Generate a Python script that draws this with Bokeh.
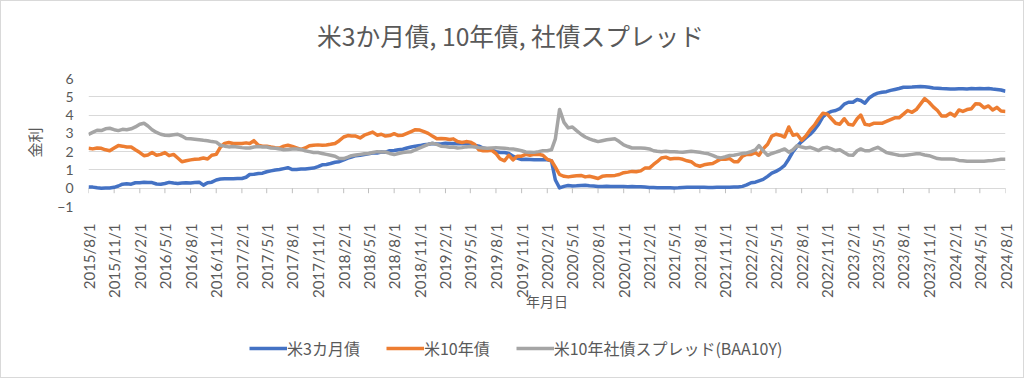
import math
import pandas as pd
from bokeh.plotting import figure
from bokeh.layouts import column
from bokeh.models import FixedTicker, Legend, LegendItem, Range1d, ColumnDataSource, Label
from bokeh.embed import file_html
from bokeh.resources import INLINE

# ---------------- data ----------------
start_date = "2015-08-01"
end_date = "2024-08-01"

title_text = "米3か月債, 10年債, 社債スプレッド"
x_label = "年月日"
y_label = "金利"
series_names = ["米3カ月債", "米10年債", "米10年社債スプレッド(BAA10Y)"]
y_ticks = [-1, 0, 1, 2, 3, 4, 5, 6]

# semi-monthly observations (1st and 16th of each month)
bill_3m = (
    [0.07, 0.06, 0.02, 0.00, 0.01, 0.01, 0.05, 0.12, 0.22, 0.24]
    + [0.22, 0.30, 0.30, 0.32, 0.31, 0.31, 0.23, 0.22, 0.26, 0.32, 0.28, 0.26,
       0.28, 0.30, 0.28, 0.31, 0.33, 0.17, 0.30, 0.33, 0.45, 0.50, 0.52, 0.52]
    + [0.52, 0.53, 0.53, 0.60, 0.75, 0.76, 0.80, 0.82, 0.90, 0.95, 1.00, 1.02,
       1.07, 1.12, 1.02, 1.02, 1.05, 1.05, 1.08, 1.10, 1.18, 1.28, 1.30, 1.35]
    + [1.42, 1.45, 1.55, 1.65, 1.70, 1.78, 1.80, 1.84, 1.88, 1.92, 1.93, 1.98,
       1.97, 2.05, 2.06, 2.10, 2.13, 2.20, 2.25, 2.30, 2.33, 2.38, 2.40, 2.44]
    + [2.42, 2.42, 2.46, 2.45, 2.45, 2.43, 2.43, 2.43, 2.40, 2.35, 2.30, 2.20,
       2.15, 2.10, 2.00, 1.95, 1.95, 1.90, 1.75, 1.65, 1.57, 1.58, 1.57, 1.56]
    + [1.55, 1.55, 1.55, 1.50, 0.45, 0.02, 0.10, 0.15, 0.12, 0.13, 0.15, 0.16,
       0.13, 0.12, 0.10, 0.10, 0.11, 0.10, 0.10, 0.09, 0.09, 0.08, 0.09, 0.08]
    + [0.08, 0.06, 0.04, 0.04, 0.03, 0.02, 0.02, 0.02, 0.01, 0.02, 0.04, 0.05,
       0.05, 0.05, 0.05, 0.05, 0.04, 0.04, 0.05, 0.05, 0.05, 0.05, 0.06, 0.07]
    + [0.10, 0.18, 0.30, 0.33, 0.40, 0.48, 0.65, 0.82, 0.92, 1.05, 1.25, 1.60,
       2.00, 2.30, 2.55, 2.75, 2.95, 3.20, 3.50, 3.90, 4.10, 4.20, 4.25, 4.35]
    + [4.60, 4.70, 4.70, 4.85, 4.80, 4.65, 4.95, 5.10, 5.20, 5.25, 5.28, 5.35,
       5.40, 5.45, 5.52, 5.52, 5.53, 5.55, 5.56, 5.55, 5.52, 5.48, 5.47, 5.45]
    + [5.44, 5.43, 5.43, 5.44, 5.44, 5.43, 5.45, 5.44, 5.45, 5.44, 5.45, 5.42,
       5.40, 5.37, 5.30]
)

note_10y = (
    [2.19, 2.15, 2.20, 2.18, 2.10, 2.05, 2.20, 2.33, 2.30, 2.25]
    + [2.25, 2.10, 1.95, 1.78, 1.82, 1.95, 1.80, 1.85, 1.95, 1.78, 1.85, 1.65,
       1.45, 1.50, 1.55, 1.58, 1.60, 1.65, 1.60, 1.80, 1.85, 2.25, 2.45, 2.50]
    + [2.45, 2.45, 2.45, 2.48, 2.45, 2.60, 2.35, 2.30, 2.30, 2.25, 2.22, 2.20,
       2.30, 2.35, 2.28, 2.20, 2.12, 2.20, 2.32, 2.35, 2.37, 2.35, 2.36, 2.40]
    + [2.45, 2.60, 2.80, 2.88, 2.85, 2.85, 2.75, 2.90, 2.98, 3.07, 2.90, 2.95,
       2.85, 2.88, 2.98, 2.88, 2.90, 3.00, 3.10, 3.20, 3.18, 3.10, 3.00, 2.85]
    + [2.70, 2.72, 2.70, 2.66, 2.70, 2.55, 2.50, 2.55, 2.52, 2.40, 2.10, 2.05,
       2.05, 2.08, 1.90, 1.60, 1.50, 1.80, 1.55, 1.75, 1.75, 1.85, 1.80, 1.85]
    + [1.85, 1.80, 1.58, 1.50, 1.15, 0.75, 0.65, 0.62, 0.65, 0.68, 0.70, 0.62,
       0.65, 0.60, 0.53, 0.65, 0.68, 0.68, 0.70, 0.75, 0.85, 0.88, 0.92, 0.90]
    + [0.95, 1.10, 1.10, 1.30, 1.45, 1.65, 1.70, 1.60, 1.62, 1.63, 1.58, 1.50,
       1.45, 1.28, 1.20, 1.28, 1.32, 1.35, 1.48, 1.60, 1.58, 1.62, 1.45, 1.45]
    + [1.75, 1.85, 1.85, 1.95, 1.80, 2.15, 2.40, 2.85, 2.95, 2.90, 2.80, 3.35,
       2.90, 2.95, 2.62, 2.85, 3.20, 3.45, 3.80, 4.10, 4.05, 3.80, 3.55, 3.50]
    + [3.80, 3.50, 3.45, 3.80, 4.00, 3.50, 3.45, 3.55, 3.55, 3.55, 3.65, 3.75,
       3.85, 3.85, 4.05, 4.25, 4.15, 4.30, 4.60, 4.90, 4.70, 4.45, 4.25, 3.95]
    + [3.95, 4.10, 3.95, 4.28, 4.20, 4.30, 4.35, 4.62, 4.60, 4.40, 4.50, 4.28,
       4.42, 4.22, 4.20]
)

baa_spread = (
    [2.94, 3.05, 3.17, 3.15, 3.25, 3.28, 3.20, 3.15, 3.22, 3.20]
    + [3.25, 3.35, 3.50, 3.55, 3.40, 3.20, 3.05, 2.95, 2.90, 2.88, 2.92, 2.95,
       2.85, 2.72, 2.70, 2.68, 2.65, 2.62, 2.60, 2.55, 2.52, 2.35, 2.30, 2.26]
    + [2.28, 2.25, 2.22, 2.20, 2.20, 2.25, 2.28, 2.25, 2.25, 2.20, 2.18, 2.15,
       2.10, 2.12, 2.14, 2.15, 2.12, 2.05, 2.00, 1.95, 1.95, 1.90, 1.85, 1.80]
    + [1.75, 1.62, 1.62, 1.70, 1.78, 1.82, 1.85, 1.88, 1.90, 1.95, 2.00, 1.98,
       1.98, 1.90, 1.84, 1.90, 1.95, 1.98, 2.00, 2.10, 2.20, 2.30, 2.40, 2.46]
    + [2.40, 2.30, 2.28, 2.24, 2.25, 2.20, 2.22, 2.26, 2.28, 2.25, 2.22, 2.20,
       2.18, 2.20, 2.22, 2.20, 2.18, 2.16, 2.15, 2.10, 2.05, 1.98, 1.97, 1.96]
    + [2.00, 2.05, 2.05, 2.10, 2.70, 4.31, 3.60, 3.30, 3.35, 3.15, 2.95, 2.80,
       2.70, 2.62, 2.55, 2.60, 2.65, 2.68, 2.70, 2.55, 2.37, 2.28, 2.20, 2.20]
    + [2.20, 2.18, 2.15, 2.05, 2.02, 2.00, 2.02, 2.00, 2.00, 1.98, 1.97, 2.00,
       2.02, 2.00, 1.97, 1.92, 1.88, 1.80, 1.70, 1.66, 1.72, 1.79, 1.80, 1.85]
    + [1.90, 1.93, 2.00, 2.10, 2.33, 2.05, 1.80, 1.90, 1.97, 2.05, 2.15, 1.97,
       2.10, 2.33, 2.25, 2.20, 2.24, 2.15, 2.06, 2.20, 2.24, 2.15, 2.06, 2.10]
    + [1.95, 1.82, 1.80, 2.05, 2.15, 2.05, 2.05, 2.15, 2.24, 2.10, 1.95, 1.90,
       1.85, 1.80, 1.79, 1.82, 1.85, 1.88, 1.88, 1.82, 1.78, 1.70, 1.62, 1.60]
    + [1.60, 1.60, 1.58, 1.52, 1.50, 1.47, 1.47, 1.47, 1.47, 1.48, 1.50, 1.52,
       1.55, 1.58, 1.58]
)

# ---------------- build x positions ----------------
t0 = pd.Timestamp(start_date)
t1 = pd.Timestamp(end_date)
obs_dates = []
for ms in pd.date_range(t0, t1, freq="MS"):
    obs_dates.append(ms)
    if ms < t1:
        obs_dates.append(ms + pd.Timedelta(days=15))
for arr in (bill_3m, note_10y, baa_spread):
    assert len(arr) == len(obs_dates), (len(arr), len(obs_dates))

xs = [(d - t0).days for d in obs_dates]
tick_dates = pd.date_range(t0, t1, freq="3MS")
tick_pos = [(d - t0).days for d in tick_dates]
tick_labels = {p: f"{d.year}/{d.month}/{d.day}" for p, d in zip(tick_pos, tick_dates)}

src = ColumnDataSource(dict(x=xs, a=bill_3m, b=note_10y, c=baa_spread))
tick_src = ColumnDataSource(dict(x=tick_pos, y=[0] * len(tick_pos)))

# ---------------- styling ----------------
TXT = "#595959"
GRID = "#D9D9D9"
LAT = "Lato, 'Noto Sans CJK JP', sans-serif"
CJK = "'Noto Sans CJK JP', Lato, sans-serif"
colors = ["#4472C4", "#ED7D31", "#A5A5A5"]
cols = ["a", "b", "c"]
W = 1022
ML, MR = 87, 18


def strip(h):
    f = figure(width=W, height=h, output_backend="svg", toolbar_location=None,
               x_axis_location=None, y_axis_location=None,
               x_range=Range1d(0, 1), y_range=Range1d(0, 1),
               min_border_left=ML, min_border_right=MR,
               min_border_top=0, min_border_bottom=0)
    f.outline_line_color = None
    f.grid.visible = False
    f.background_fill_color = "white"
    f.border_fill_color = "white"
    return f


# ---------------- title strip ----------------
tt = strip(60)
tt.add_layout(Label(x=0.4602, y=27, x_units="data", y_units="screen", text=title_text,
                    text_align="center", text_baseline="middle", text_font=CJK,
                    text_font_size="24.7px", text_color=TXT))

# ---------------- main chart ----------------
p = figure(width=W, height=270, frame_width=917, frame_height=128,
           output_backend="svg", toolbar_location=None,
           x_range=Range1d(0, (t1 - t0).days), y_range=Range1d(-1, 6),
           min_border_left=ML, min_border_right=MR, min_border_top=17,
           min_border_bottom=125)
p.outline_line_color = None
p.background_fill_color = "white"
p.border_fill_color = "white"

p.xgrid.visible = False
p.ygrid.ticker = FixedTicker(ticks=y_ticks)
p.ygrid.grid_line_color = GRID
p.ygrid.grid_line_width = 1

ya = p.yaxis[0]
ya.ticker = FixedTicker(ticks=y_ticks)
ya.axis_line_color = None
ya.major_tick_line_color = None
ya.minor_tick_line_color = None
ya.major_label_text_font = LAT
ya.major_label_text_font_size = "14px"
ya.major_label_text_color = TXT
ya.major_label_standoff = 9
ya.axis_label = y_label
ya.axis_label_text_font = CJK
ya.axis_label_text_font_size = "15px"
ya.axis_label_text_font_style = "normal"
ya.axis_label_text_color = TXT
ya.axis_label_standoff = 9

xa = p.xaxis[0]
xa.ticker = FixedTicker(ticks=tick_pos)
xa.major_label_overrides = tick_labels
xa.major_label_orientation = math.pi / 2
xa.axis_line_color = None
xa.major_tick_line_color = None
xa.minor_tick_line_color = None
xa.major_label_text_font = LAT
xa.major_label_text_font_size = "15px"
xa.major_label_text_color = TXT
xa.major_label_standoff = 11
xa.axis_label = x_label
xa.axis_label_text_font = CJK
xa.axis_label_text_font_size = "14px"
xa.axis_label_text_font_style = "normal"
xa.axis_label_text_color = TXT
xa.axis_label_standoff = -10

# tick marks hanging below the horizontal axis at 0
p.ray(x="x", y="y", source=tick_src, length=5, length_units="screen",
      angle=-math.pi / 2, line_color="#BFBFBF", line_width=1)

for col, c in zip(cols, colors):
    p.line("x", col, source=src, line_color=c, line_width=3.5, line_join="round")

# ---------------- legend strip ----------------
lg = strip(46)
items = []
for name, col, c in zip(series_names, cols, colors):
    r = lg.line("x", col, source=src, line_color=c, line_width=3.5, visible=False)
    items.append(LegendItem(label=name, renderers=[r]))

legend = Legend(items=items, orientation="horizontal", location=(161, 17),
                label_text_font=CJK, label_text_font_size="16px", label_text_color=TXT,
                glyph_width=38, glyph_height=16, label_standoff=0, spacing=26,
                padding=0, margin=0, border_line_color=None, background_fill_alpha=0,
                inactive_fill_alpha=0)
lg.add_layout(legend, "center")

layout = column(tt, p, lg, spacing=0)
layout.styles = {"border": "1px solid #D9D9D9", "background-color": "white"}

open("out.html", "w").write(file_html(layout, INLINE))
